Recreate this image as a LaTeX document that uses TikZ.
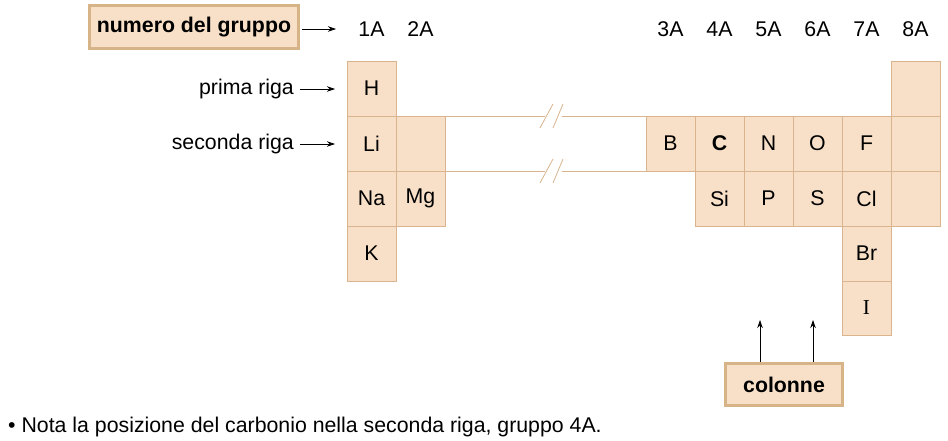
\documentclass[tikz,border=0pt]{standalone}
\usepackage{fontspec}
\setmainfont{Liberation Sans}
\newfontfamily\serifel{Liberation Serif}
\usetikzlibrary{arrows.meta}
\definecolor{cellfill}{HTML}{F8E0C8}
\definecolor{cellline}{HTML}{D9B48F}
\definecolor{boxline}{HTML}{D6B487}
\begin{document}
\begin{tikzpicture}[x=1pt,y=-1pt,
  every node/.style={font=\fontsize{21.3}{24}\selectfont},
  cell/.style={draw=cellline, fill=cellfill, line width=0.8pt, minimum width=49pt, minimum height=55pt, inner sep=0pt, outer sep=0pt},
  label/.style={draw=boxline, fill=cellfill, line width=3pt, inner sep=0pt, font=\fontsize{21.3}{24}\selectfont\bfseries},
  grp/.style={inner sep=0pt},
  pointer/.style={-{Stealth[length=8pt,width=5.5pt]}, line width=0.8pt, black},
  band/.style={draw=cellline, line width=0.8pt}
]
\useasboundingbox (0,0) rectangle (948,441);
% group numbers
\node[grp] (g1) at (371.5,29) {1A};
\node[grp] (g2) at (420.5,29) {2A};
\node[grp] (g3) at (670.5,29) {3A};
\node[grp] (g4) at (719.5,29) {4A};
\node[grp] (g5) at (768.5,29) {5A};
\node[grp] (g6) at (817.5,29) {6A};
\node[grp] (g7) at (866.5,29) {7A};
\node[grp] (g8) at (915.5,29) {8A};
% label box
\node[label, minimum width=209pt, minimum height=43pt] (ng) at (194,27) {numero del gruppo};
\coordinate (ngend) at (336,29);
\draw[pointer] (ng.east |- ngend) ++(2,0) coordinate (ngs) (ngs) -- (ngend);
% band between blocks
\draw[band] (445,116) -- (545,116) (562,116) -- (646,116);
\draw[band] (445,171) -- (545,171) (562,171) -- (646,171);
\draw[band] (540,128) -- (553,104) (553,128) -- (563,104);
\draw[band] (540,183) -- (553,159) (553,183) -- (563,159);
% left block
\node[cell] (H) at (371.5,88.5) {H};
\node[cell] (Li) at (371.5,143.5) {Li};
\node[cell] (Na) at (371.5,198.5) {Na};
\node[cell] (K) at (371.5,253.5) {K};
\node[cell] (Be) at (420.5,143.5) {};
\node[cell] (Mg) at (420.5,198.5) {Mg};
% right block
\node[cell] (B) at (670.5,143.5) {B};
\node[cell] (C) at (719.5,143.5) {\bfseries C};
\node[cell] (N) at (768.5,143.5) {N};
\node[cell] (O) at (817.5,143.5) {O};
\node[cell] (F) at (866.5,143.5) {F};
\node[cell] (He) at (915.5,88.5) {};
\node[cell] (Ne) at (915.5,143.5) {};
\node[cell] (Ar) at (915.5,198.5) {};
\node[cell] (Si) at (719.5,198.5) {Si};
\node[cell] (P) at (768.5,198.5) {P};
\node[cell] (S) at (817.5,198.5) {S};
\node[cell] (Cl) at (866.5,198.5) {Cl};
\node[cell] (Br) at (866.5,253.5) {Br};
\node[cell, minimum height=54pt] (I) at (866.5,308) {\serifel I};
% row labels
\node[anchor=east, inner sep=0pt] (r1) at (294,89) {prima riga};
\node[anchor=east, inner sep=0pt] (r2) at (294,144) {seconda riga};
\coordinate (r1e) at (335,89);
\coordinate (r2e) at (335,144);
\draw[pointer] (r1.east) ++(6,0) -- (r1e);
\draw[pointer] (r2.east) ++(6,0) -- (r2e);
% colonne box
\node[label, minimum width=117pt, minimum height=42pt] (col) at (784,384.5) {colonne};
\coordinate (c1) at (760,320);
\coordinate (c2) at (813,320);
\draw[pointer] (col.north -| c1) -- (c1);
\draw[pointer] (col.north -| c2) -- (c2);
% note
\node[anchor=west, inner sep=0pt] (note) at (8,427) {\textbullet\ Nota la posizione del carbonio nella seconda riga, gruppo 4A.};
\end{tikzpicture}
\end{document}
